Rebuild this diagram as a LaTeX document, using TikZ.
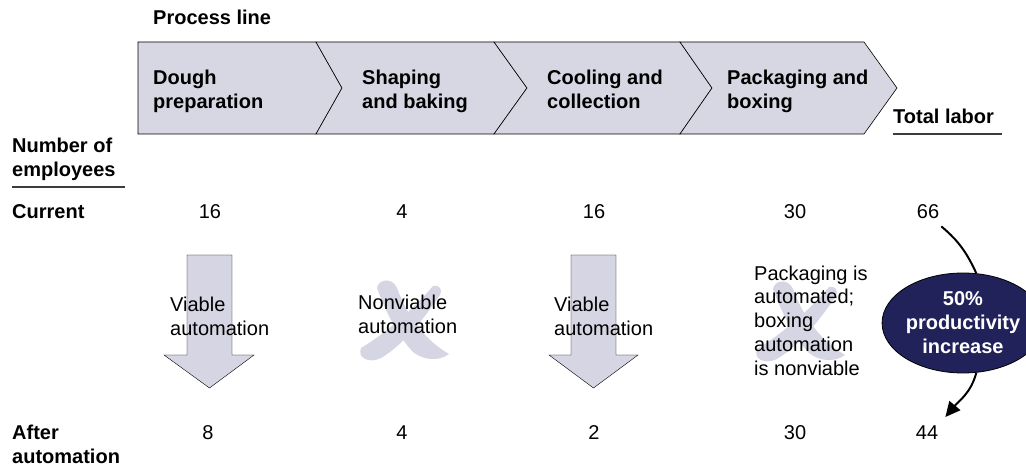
\documentclass[tikz,border=0pt]{standalone}
\usepackage{fontspec}
\setmainfont{Liberation Sans}
\usetikzlibrary{shapes.geometric,arrows.meta}
\definecolor{band}{RGB}{215,215,227}
\definecolor{flow}{RGB}{213,213,227}
\definecolor{navy}{RGB}{34,34,90}
\definecolor{edge}{RGB}{60,60,60}

% brush-stroke cross marking a step whose automation is not viable
\newcommand\brushcross[1]{%
  \begin{scope}[shift={#1}]
    \fill[flow] (-26,-32) .. controls (-24,-42) and (-10,-42) .. (-6,-32)
      .. controls (2,-10) and (18,18) .. (46,34)
      .. controls (35,42) and (20,40) .. (10,32)
      .. controls (-6,15) and (-18,-10) .. (-26,-32) -- cycle;
    \fill[flow] (30,-34) .. controls (36,-36) and (40,-30) .. (37,-25)
      .. controls (20,0) and (0,25) .. (-22,38)
      .. controls (-34,44) and (-46,38) .. (-42,28)
      .. controls (-20,15) and (10,-10) .. (30,-34) -- cycle;
  \end{scope}}

\begin{document}
\begin{tikzpicture}[x=1pt,y=-1pt,
  every node/.style={inner sep=0pt, font=\fontsize{20}{24}\selectfont},
  head/.style={font=\bfseries\fontsize{20}{24}\selectfont, anchor=base west, align=left},
  body/.style={anchor=base west, align=left},
  num/.style={anchor=base},
  stage/.style={fill=band, draw=black, line width=0.6pt},
  flowarrow/.style={fill=flow},
  rule/.style={draw=edge, line width=1.5pt},
  curve/.style={draw=black, line width=2pt},
  badge/.style={ellipse, fill=navy, draw=black, line width=0.8pt,
    minimum width=126pt, minimum height=100pt, text=white, align=center,
    font=\bfseries\fontsize{20}{24}\selectfont}]

\useasboundingbox (0,0) rectangle (1026,470);

% process line chevrons
\draw[stage] (138,42) -- (316,42) -- (342,88) -- (316,134) -- (138,134) -- cycle;
\draw[stage] (316,42) -- (494,42) -- (527,88) -- (494,134) -- (316,134) -- (342,88) -- cycle;
\draw[stage] (494,42) -- (680,42) -- (712,88) -- (680,134) -- (494,134) -- (527,88) -- cycle;
\draw[stage] (680,42) -- (864,42) -- (897,88) -- (864,134) -- (680,134) -- (712,88) -- cycle;

% multi-line nodes sit on the baseline of their last line
\node[head] (title) at (153,25) {Process line};
\node[head] (s1) at (153,109) {Dough\\preparation};
\node[head] (s2) at (362,109) {Shaping\\and baking};
\node[head] (s3) at (547,109) {Cooling and\\collection};
\node[head] (s4) at (727,109) {Packaging and\\boxing};
\node[head] (total) at (893,124) {Total labor};
\draw[rule] (893,134) -- (1002,134);

% row labels
\node[head] (emp) at (12,177) {Number of\\employees};
\draw[rule] (12,187) -- (125,187);
\node[head] (cur) at (12,219) {Current};
\node[head] (aft) at (12,463) {After\\automation};

% automation arrows and crosses
\draw[flowarrow] (187,255) -- (232,255) -- (232,355) -- (254,355) -- (209.5,388)
  -- (164,355) -- (187,355) -- cycle;
\draw[flowarrow] (571,255) -- (616,255) -- (616,355) -- (638,355) -- (593.5,388)
  -- (549,355) -- (571,355) -- cycle;
\brushcross{(403,320)}
\brushcross{(799,321)}

% current numbers
\node[num] (c1) at (210,219) {16};
\node[num] (c2) at (402,219) {4};
\node[num] (c3) at (594,219) {16};
\node[num] (c4) at (795,219) {30};
\node[num] (c5) at (928,219) {66};

% after numbers
\node[num] (a1) at (208,439) {8};
\node[num] (a2) at (402,439) {4};
\node[num] (a3) at (594,439) {2};
\node[num] (a4) at (795,439) {30};
\node[num] (a5) at (927,439) {44};

% notes
\node[body] (t1) at (170,336) {Viable\\automation};
\node[body] (t2) at (358,334) {Nonviable\\automation};
\node[body] (t3) at (554,336) {Viable\\automation};
\node[body] (t4) at (754,376) {Packaging is\\automated;\\boxing\\automation\\is nonviable};

% productivity badge
\node[badge] (gain) at (963,323) {50\%\\productivity\\increase};
\draw[curve] ([shift={(2pt,-7pt)}]c5.south east) to[out=-40,in=115] (gain.75);
\draw[curve,-{Triangle[length=15pt,width=14pt]}] (gain.-75) to[out=-105,in=50]
  ([shift={(7pt,8pt)}]a5.north east);
\end{tikzpicture}
\end{document}
